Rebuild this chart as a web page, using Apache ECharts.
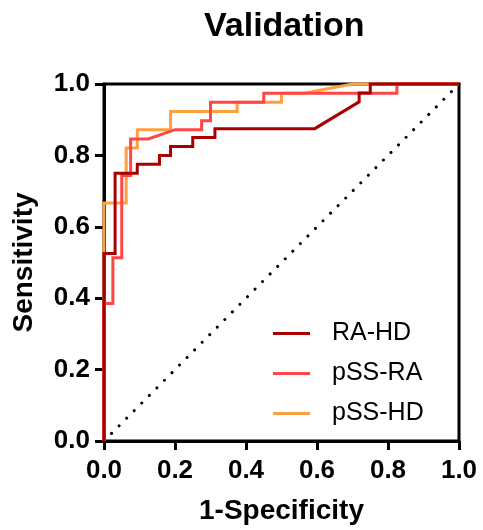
<!DOCTYPE html>
<html>
<head>
<meta charset="utf-8">
<script src="https://cdn.jsdelivr.net/npm/echarts@6/dist/echarts.min.js"></script>
<style>html,body{margin:0;padding:0;background:#fff;}#c{width:483px;height:530px;}</style>
</head>
<body>
<div id="c"></div>
<script>
// ROC curve points [1-Specificity, Sensitivity]
var raHD = [[0,0],[0,0.525],[0.03125,0.525],[0.03125,0.75],[0.09375,0.75],[0.09375,0.775],[0.15625,0.775],[0.15625,0.8],[0.1875,0.8],[0.1875,0.825],[0.25,0.825],[0.25,0.85],[0.3125,0.85],[0.3125,0.875],[0.59375,0.875],[0.71875,0.95],[0.71875,0.975],[0.75,0.975],[0.75,1],[1,1]];
var pssRA = [[0,0],[0,0.385],[0.025,0.385],[0.025,0.513],[0.05,0.513],[0.05,0.744],[0.075,0.744],[0.075,0.846],[0.125,0.846],[0.2,0.872],[0.275,0.872],[0.275,0.897],[0.3,0.897],[0.3,0.949],[0.45,0.949],[0.45,0.974],[0.825,0.974],[0.825,1],[1,1]];
var pssHD = [[0,0],[0,0.667],[0.0625,0.667],[0.0625,0.821],[0.09375,0.821],[0.09375,0.872],[0.1875,0.872],[0.1875,0.923],[0.375,0.923],[0.375,0.949],[0.5,0.949],[0.5,0.974],[0.5625,0.974],[0.70,1],[1,1]];
var refLine = [[0,0],[1,1]];
var seriesNames = ['RA-HD','pSS-RA','pSS-HD'];
var seriesColors = ['#A80000','#FF4545','#FFA040'];
var tickValues = [0,0.2,0.4,0.6,0.8,1.0];
var titleText = 'Validation';
var xTitle = '1-Specificity';
var yTitle = 'Sensitivity';

var FONT = '"Liberation Sans", Arial, sans-serif';
var chart = echarts.init(document.getElementById('c'), null, {renderer:'canvas'});
function axisCommon(name, isX){
  return {
    type:'value', min:0, max:1, interval:0.2,
    name:name, nameLocation:'middle', nameGap: isX ? 56 : 66,
    nameTextStyle:{fontFamily:FONT, fontWeight:'bold', fontSize:28, color:'#000'},
    axisLine:{show:true, onZero:false, lineStyle:{color:'#000', width:3}},
    axisTick:{show:true, length:9, lineStyle:{color:'#000', width:3}},
    axisLabel:{fontFamily:FONT, fontWeight:'bold', fontSize:26, color:'#000', margin: isX ? 17 : 14,
      formatter:function(v){return v.toFixed(1);}},
    splitLine:{show:false}
  };
}
var option = {
  animation:false,
  backgroundColor:'#fff',
  title:{text:titleText, left:199, top:5, textStyle:{fontFamily:FONT, fontWeight:'bold', fontSize:34, color:'#000'}},
  grid:{left:104, right:24, top:84, bottom:89, show:true, borderColor:'#000', borderWidth:3, containLabel:false},
  xAxis: axisCommon(xTitle, true),
  yAxis: axisCommon(yTitle, false),
  legend:{
    data:seriesNames, orient:'vertical', left:268, top:316, icon:'rect',
    itemWidth:37, itemHeight:3, itemGap:15,
    textStyle:{fontFamily:FONT, fontSize:25, color:'#000', lineHeight:25, padding:[0,0,0,17]}
  },
  series:[
    {type:'line', name:'ref', data:refLine, showSymbol:false, silent:true, clip:false, z:1,
      lineStyle:{color:'#000', width:3, type:[0.01,10.7], cap:'round'}},
    {type:'line', name:seriesNames[2], data:pssHD, showSymbol:false, clip:false, z:2, color:seriesColors[2],
      lineStyle:{color:seriesColors[2], width:3, join:'miter'}},
    {type:'line', name:seriesNames[1], data:pssRA, showSymbol:false, clip:false, z:3, color:seriesColors[1],
      lineStyle:{color:seriesColors[1], width:3, join:'miter'}},
    {type:'line', name:seriesNames[0], data:raHD, showSymbol:false, clip:false, z:4, color:seriesColors[0],
      lineStyle:{color:seriesColors[0], width:3, join:'miter'}}
  ]
};
chart.setOption(option);
</script>
</body>
</html>
